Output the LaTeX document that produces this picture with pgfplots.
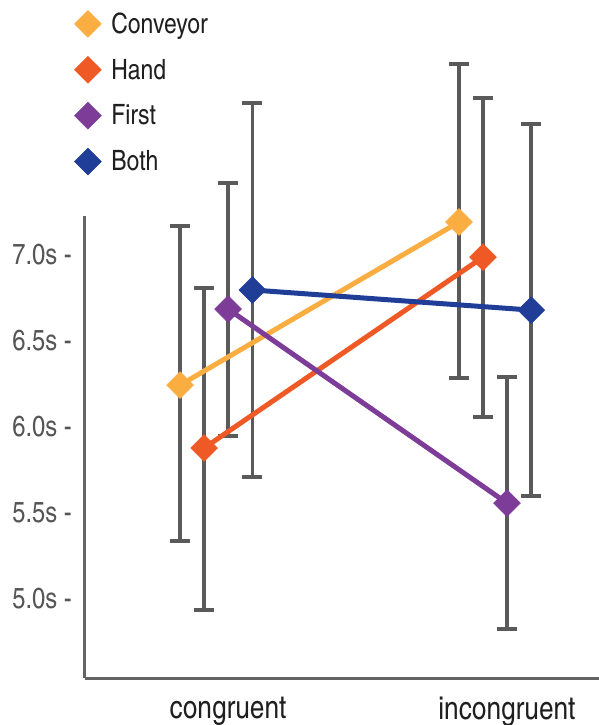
\documentclass[border=0pt]{standalone}
\usepackage{fontspec}
\setmainfont{texgyreheroscn-regular.otf}
\usepackage{pgfplots}
\usepackage{pgfplotstable}
\pgfplotsset{compat=1.18}
\definecolor{cConv}{RGB}{250,173,65}
\definecolor{cHand}{RGB}{238,89,37}
\definecolor{cFirst}{RGB}{125,60,152}
\definecolor{cBoth}{RGB}{32,62,152}
\definecolor{errgray}{RGB}{90,90,90}
\definecolor{axgray}{RGB}{100,100,100}
\definecolor{labgray}{RGB}{85,85,85}

% x, mean, error plus, error minus
\pgfplotstableread{
x y ep em
-0.172 6.244 0.925 0.907
0.828 7.192 0.918 0.907
}\conv
\pgfplotstableread{
x y ep em
-0.086 5.878 0.930 0.942
0.914 6.988 0.925 0.930
}\hand
\pgfplotstableread{
x y ep em
0.000 6.686 0.733 0.738
1.000 5.558 0.733 0.732
}\first
\pgfplotstableread{
x y ep em
0.087 6.797 1.087 1.088
1.087 6.680 1.082 1.081
}\both

\begin{document}
\begin{tikzpicture}
\begin{axis}[
  name=ax,
  width=514pt, height=678pt, scale only axis,
  xmin=-0.513, xmax=1.330, ymin=4.541, ymax=8.483,
  axis x line*=bottom, axis y line*=left,
  x axis line style={line width=3pt, color=axgray},
  y axis line style={draw=none},
  major tick length=0pt,
  xtick={0,1}, xticklabels={congruent,incongruent},
  ytick={5,5.5,6,6.5,7},
  yticklabels={5.0s -,5.5s -,6.0s -,6.5s -,7.0s -},
  yticklabel style={font=\fontsize{29}{32}\selectfont, text=labgray, inner sep=0pt, anchor=east, xshift=-13pt},
  xticklabel style={font=\fontsize{32}{36}\selectfont, text=black!88, inner sep=0pt, anchor=north, yshift=-19pt},
  clip=false,
  legend style={at={(rel axis cs:0,1)}, anchor=north west, xshift=-10.5pt, yshift=-10.5pt,
    draw=none, fill=none, inner sep=0pt, outer sep=0pt, row sep=19pt, column sep=10pt,
    font=\fontsize{28}{30}\selectfont, text=black!88,
    nodes={inner sep=0pt, outer sep=0pt}},
  legend cell align=left,
  legend image code/.code={\draw[#1] plot coordinates {(0pt,0pt)};},
  errb/.style={draw=none, mark=none, forget plot,
    error bars/.cd, y dir=both, y explicit,
    error bar style={line width=3.5pt, color=errgray},
    error mark options={line width=3.5pt, mark size=10pt, color=errgray, rotate=90}},
  ln/.style={line width=5pt, color=#1, mark=square*, mark size=9.5pt,
    mark options={rotate=45, fill=#1, draw=#1, line width=0.5pt, rounded corners=1.5pt}, forget plot},
  lg/.style={only marks, mark=square*, mark size=9.5pt,
    mark options={rotate=45, fill=#1, draw=#1, line width=0.5pt, rounded corners=1.5pt}},
]
\draw[axgray, line width=3pt] (axis cs:-0.513,4.541) -- (axis cs:-0.513,7.227);

\addplot[errb] table[x=x, y=y, y error plus=ep, y error minus=em] {\conv};
\addplot[errb] table[x=x, y=y, y error plus=ep, y error minus=em] {\hand};
\addplot[errb] table[x=x, y=y, y error plus=ep, y error minus=em] {\first};
\addplot[errb] table[x=x, y=y, y error plus=ep, y error minus=em] {\both};

\addplot[ln=cConv] table[x=x, y=y] {\conv};
\addplot[ln=cHand] table[x=x, y=y] {\hand};
\addplot[ln=cFirst] table[x=x, y=y] {\first};
\addplot[ln=cBoth] table[x=x, y=y] {\both};

\addlegendimage{lg=cConv}\addlegendentry{Conveyor}
\addlegendimage{lg=cHand}\addlegendentry{Hand}
\addlegendimage{lg=cFirst}\addlegendentry{First}
\addlegendimage{lg=cBoth}\addlegendentry{Both}
\end{axis}
\pgfresetboundingbox
\path[use as bounding box] ([shift={(-85pt,-47pt)}]ax.south west) rectangle (ax.north east);
\end{tikzpicture}
\end{document}
